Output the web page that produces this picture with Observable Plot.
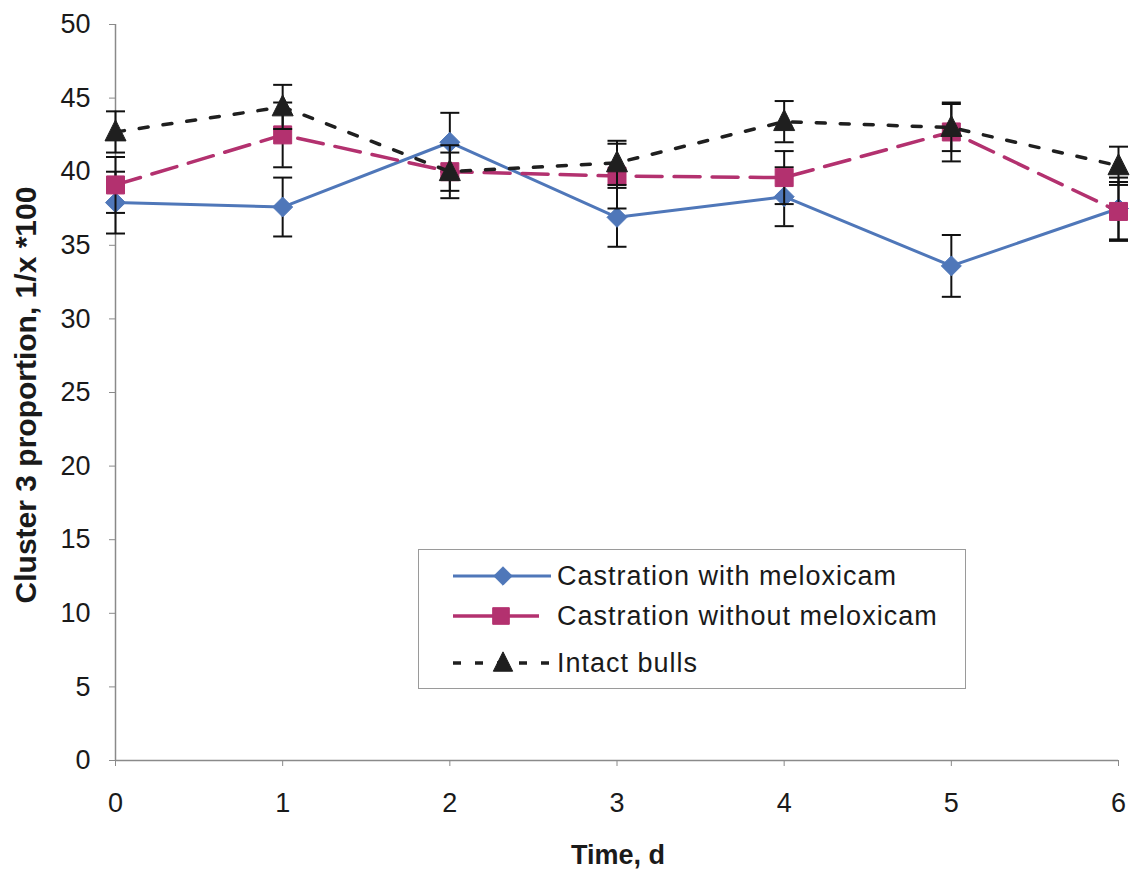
<!DOCTYPE html>
<html>
<head>
<meta charset="utf-8">
<script src="https://cdn.jsdelivr.net/npm/d3@7"></script>
<script src="https://cdn.jsdelivr.net/npm/@observablehq/plot@0.6"></script>
<style>
  html, body { margin: 0; padding: 0; background: #fff; }
  #wrap { position: relative; width: 1136px; height: 877px; font-family: "Liberation Sans", Arial, sans-serif; }
  #legend { position: absolute; left: 418px; top: 549px; width: 548px; height: 140px;
            border: 1.5px solid #9a9a9a; background: #fff; box-sizing: border-box; }
  .row { position: absolute; left: 0; height: 36px; display: flex; align-items: center; }
  .row span { font-size: 27px; letter-spacing: 1px; color: #1a1a1a; margin-left: 4px; white-space: nowrap; }
</style>
</head>
<body>
<div id="wrap"><div id="chart"></div><div id="legend"></div></div>
<script>
// ---- data ----
const days = [0, 1, 2, 3, 4, 5, 6];
const seriesNames = ["Castration with meloxicam", "Castration without meloxicam", "Intact bulls"];
const meloxicam   = [37.9, 37.6, 42.0, 36.9, 38.3, 33.6, 37.5];
const meloxicamSE = [2.1, 2.0, 2.0, 2.0, 2.0, 2.1, 2.1];
const without     = [39.1, 42.5, 40.0, 39.7, 39.6, 42.7, 37.3];
const withoutSE   = [1.9, 2.2, 1.8, 2.2, 1.8, 2.0, 2.0];
const intact      = [42.7, 44.4, 40.0, 40.6, 43.4, 43.0, 40.4];
const intactSE    = [1.4, 1.5, 1.3, 1.5, 1.4, 1.6, 1.3];
const yTicks = [0, 5, 10, 15, 20, 25, 30, 35, 40, 45, 50];
const xTicks = [0, 1, 2, 3, 4, 5, 6];
const yLabel = "Cluster 3 proportion, 1/x *100";
const xLabel = "Time, d";

// ---- styles ----
const colors = ["#4f77b9", "#b3316f", "#1f1f1f"];
const dashes = [null, "26,12", "9,15"];
const widths = [3, 3.5, 3.5];

// custom marker symbols
const diamond = { draw(c, s) { const r = Math.sqrt(s / Math.PI); c.moveTo(0, -r); c.lineTo(r, 0); c.lineTo(0, r); c.lineTo(-r, 0); c.closePath(); } };
const square  = { draw(c, s) { const r = Math.sqrt(s / Math.PI); c.rect(-r, -r, 2 * r, 2 * r); } };
const triangle= { draw(c, s) { const r = Math.sqrt(s / Math.PI); c.moveTo(0, -1.15 * r); c.lineTo(r, 0.85 * r); c.lineTo(-r, 0.85 * r); c.closePath(); } };
const cap     = { draw(c, s) { const r = Math.sqrt(s / Math.PI); c.moveTo(-r, 0); c.lineTo(r, 0); } };
const symbols = [diamond, square, triangle];
const symR = [10, 9, 10.5];

const values = [meloxicam, without, intact];
const errs = [meloxicamSE, withoutSE, intactSE];
const data = seriesNames.map((name, k) => days.map((d, i) => ({
  series: name, k, day: d, v: values[k][i], lo: values[k][i] - errs[k][i], hi: values[k][i] + errs[k][i]
})));

const marks = [
  Plot.ruleY([0], { stroke: "#8a8a8a", strokeWidth: 1.5 }),
  Plot.ruleX([0], { stroke: "#8a8a8a", strokeWidth: 1.5 }),
  Plot.axisY({ ticks: yTicks, tickSize: 6, tickPadding: 19, fontSize: 27, label: null, stroke: "#8a8a8a", fill: "#1a1a1a", tickFormat: d => String(d) }),
  Plot.axisX({ ticks: xTicks, tickSize: 6, tickPadding: 26, fontSize: 27, label: null, stroke: "#8a8a8a", fill: "#1a1a1a", tickFormat: d => String(d) })
];
data.forEach((rows, k) => {
  marks.push(
    Plot.line(rows, { x: "day", y: "v", stroke: colors[k], strokeWidth: widths[k], strokeDasharray: dashes[k] }),
    Plot.ruleX(rows, { x: "day", y1: "lo", y2: "hi", stroke: "#111", strokeWidth: 2 }),
    Plot.dot(rows, { x: "day", y: "lo", symbol: cap, r: 9.5, stroke: "#111", strokeWidth: 2, fill: "none" }),
    Plot.dot(rows, { x: "day", y: "hi", symbol: cap, r: 9.5, stroke: "#111", strokeWidth: 2, fill: "none" }),
    Plot.dot(rows, { x: "day", y: "v", symbol: symbols[k], r: symR[k], fill: colors[k], stroke: colors[k], strokeWidth: 1 })
  );
});

const chart = Plot.plot({
  width: 1136, height: 877,
  marginLeft: 115, marginRight: 18, marginTop: 24, marginBottom: 117,
  style: { fontFamily: "Liberation Sans, Arial, sans-serif", background: "#fff", fontSize: "27px" },
  x: { domain: [0, 6] },
  y: { domain: [0, 50] },
  marks
});
// axis titles
const svg = d3.select(chart);
svg.append("text").text(yLabel)
  .attr("transform", "translate(25,395) rotate(-90)")
  .attr("text-anchor", "middle").attr("dominant-baseline", "central")
  .attr("font-size", 30).attr("font-weight", "bold").attr("fill", "#1a1a1a");
svg.append("text").text(xLabel)
  .attr("x", 618).attr("y", 855)
  .attr("text-anchor", "middle").attr("dominant-baseline", "central")
  .attr("font-size", 27).attr("font-weight", "bold").attr("fill", "#1a1a1a");
document.getElementById("chart").appendChild(chart);

// ---- legend (HTML overlay, swatches from series styles) ----
const legend = document.getElementById("legend");
const rowTops = [8, 48, 95];
seriesNames.forEach((name, k) => {
  const row = document.createElement("div");
  row.className = "row";
  row.style.top = rowTops[k] + "px";
  const sw = d3.create("svg").attr("width", 134).attr("height", 36);
  sw.append("line").attr("x1", 34).attr("x2", k === 1 ? 120 : 132).attr("y1", 18).attr("y2", 18)
    .attr("stroke", colors[k]).attr("stroke-width", widths[k])
    .attr("stroke-dasharray", k === 2 ? "8,14" : null);
  const sym = d3.symbol().type(symbols[k]).size(Math.PI * symR[k] * symR[k] * 0.85);
  sw.append("path").attr("d", sym()).attr("transform", `translate(${k === 1 ? 82 : 84},18)`)
    .attr("fill", colors[k]).attr("stroke", colors[k]);
  row.appendChild(sw.node());
  const t = document.createElement("span");
  t.textContent = name;
  row.appendChild(t);
  legend.appendChild(row);
});
</script>
</body>
</html>
